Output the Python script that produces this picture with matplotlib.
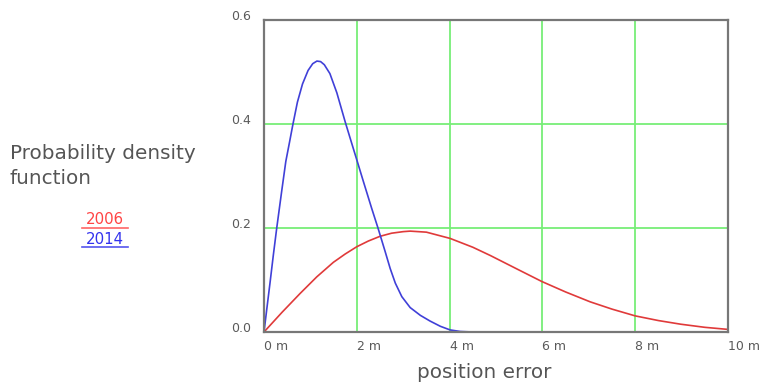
import matplotlib
matplotlib.use("Agg")
import matplotlib.pyplot as plt
from matplotlib.lines import Line2D

# Data
blue_x = [0, 0.06, 0.129, 0.20, 0.273, 0.38, 0.47, 0.55, 0.62, 0.72, 0.83, 0.95, 1.05,
          1.14, 1.22, 1.30, 1.42, 1.57, 1.66, 1.75, 1.89, 2.0, 2.14, 2.32, 2.46, 2.61,
          2.72, 2.83, 2.97, 3.15, 3.37, 3.58, 3.80, 4.01, 4.23, 4.5, 10.0]
blue_y = [0, 0.044, 0.094, 0.147, 0.199, 0.270, 0.328, 0.365, 0.398, 0.442, 0.477, 0.503,
          0.516, 0.521, 0.520, 0.514, 0.497, 0.460, 0.432, 0.404, 0.363, 0.331, 0.290,
          0.238, 0.199, 0.155, 0.122, 0.094, 0.068, 0.047, 0.032, 0.021, 0.011, 0.004,
          0.001, 0.0, 0.0]

red_x = [0, 0.39, 0.777, 1.137, 1.495, 1.75, 2.0, 2.25, 2.5, 2.75, 3.0, 3.15, 3.5, 4.01,
         4.5, 4.88, 5.5, 5.99, 6.5, 7.03, 7.5, 8.0, 8.5, 8.98, 9.5, 10.0]
red_y = [0, 0.038, 0.074, 0.106, 0.134, 0.150, 0.164, 0.175, 0.184, 0.190, 0.193, 0.194,
         0.192, 0.180, 0.163, 0.147, 0.119, 0.097, 0.077, 0.058, 0.044, 0.031, 0.022,
         0.015, 0.009, 0.005]

x_ticks = [0, 2, 4, 6, 8, 10]
x_labels = ["0 m", "2 m", "4 m", "6 m", "8 m", "10 m"]
y_ticks = [0.0, 0.2, 0.4, 0.6]
y_labels = ["0.0", "0.2", "0.4", "0.6"]
series_names = ["2006", "2014"]

W, H = 761, 382
fig = plt.figure(figsize=(W / 100, H / 100), dpi=100)
plt.rcParams['font.family'] = ['DejaVu Sans']

ax = fig.add_axes([264 / W, 1 - 332 / H, (728 - 264) / W, (332 - 20) / H])
ax.set_xlim(0, 10)
ax.set_ylim(0, 0.6)

for v in [2, 4, 6, 8]:
    ax.axvline(v, color="#77ee77", lw=1.3, zorder=1)
for v in [0.2, 0.4]:
    ax.axhline(v, color="#77ee77", lw=1.3, zorder=1)

ax.plot(red_x, red_y, color="#e03a3a", lw=1.2, zorder=3, solid_joinstyle="round")
ax.plot(blue_x, blue_y, color="#4040d8", lw=1.2, zorder=4, solid_joinstyle="round")

for s in ax.spines.values():
    s.set_color("#777777")
    s.set_linewidth(1.6)
    s.set_zorder(5)

ax.set_xticks(x_ticks)
ax.set_xticklabels(x_labels)
ax.set_yticks(y_ticks)
ax.set_yticklabels(y_labels)
ax.tick_params(length=0, labelsize=9, labelcolor="#5a5a5a")
ax.tick_params(axis="x", pad=6)
ax.tick_params(axis="y", pad=9)
for t in ax.get_xticklabels():
    t.set_ha("left")
for t in ax.get_yticklabels():
    t.set_va("baseline")

fig.text(484 / W, 1 - 372 / H, "position error", ha="center", va="center",
         fontsize=14.4, color="#555555")
fig.text(10 / W, 1 - 154 / H, "Probability density", ha="left", va="center",
         fontsize=14.4, color="#555555")
fig.text(10 / W, 1 - 178 / H, "function", ha="left", va="center",
         fontsize=14.4, color="#555555")

fig.text(105 / W, 1 - 219 / H, series_names[0], ha="center", va="center",
         fontsize=10.8, color="#ff4444")
fig.text(105 / W, 1 - 239 / H, series_names[1], ha="center", va="center",
         fontsize=10.8, color="#3333ee")
fig.add_artist(Line2D([82 / W, 128 / W], [1 - 227.7 / H, 1 - 227.7 / H],
                      color="#ff6666", lw=1.2))
fig.add_artist(Line2D([82 / W, 128 / W], [1 - 246.7 / H, 1 - 246.7 / H],
                      color="#5555ee", lw=1.2))

fig.savefig("out.png", dpi=100)
